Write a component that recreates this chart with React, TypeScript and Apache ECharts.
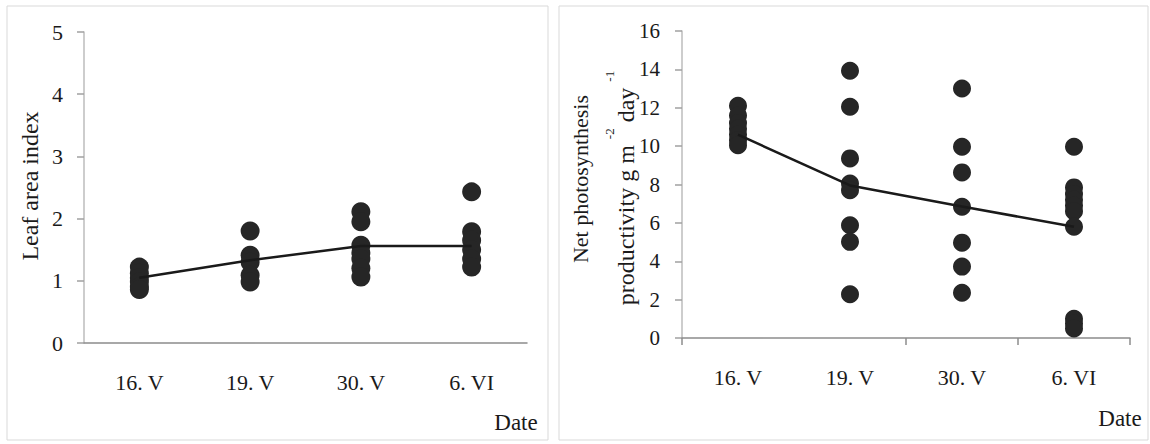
import React, { useEffect, useRef } from 'react';
import * as echarts from 'echarts';

const dates = ['16. V', '19. V', '30. V', '6. VI'];

// Leaf area index — individual plants per date
const lai16 = [1.22, 1.12, 1.05, 0.98, 0.9, 0.86];
const lai19 = [1.8, 1.41, 1.3, 1.09, 0.98];
const lai30 = [2.11, 1.95, 1.57, 1.45, 1.35, 1.2, 1.06];
const lai6 = [2.43, 1.79, 1.65, 1.5, 1.35, 1.22];
const laiMean = [1.05, 1.33, 1.56, 1.56];

// Net photosynthesis productivity, g m-2 day-1
const np16 = [12.1, 11.6, 11.2, 10.9, 10.6, 10.3, 10.05];
const np19 = [13.93, 12.05, 9.36, 8.05, 7.7, 5.88, 5.01, 2.28];
const np30 = [13.0, 9.97, 8.63, 6.84, 4.97, 3.72, 2.36];
const np6 = [9.97, 7.85, 7.5, 7.2, 6.9, 6.6, 5.8, 1.0, 0.75, 0.5];
const npMean = [10.6, 7.95, 6.85, 5.8];

const FONT = '"Liberation Serif", "Times New Roman", serif';
const TXT = '#1a1a1a';

const toPairs = (groups: number[][]) =>
  groups.flatMap((g, i) => g.map((v) => [dates[i], v]));

export default function App() {
  const ref = useRef<HTMLDivElement>(null);

  useEffect(() => {
    document.body.style.margin = '0';
    if (!ref.current) return;
    const chart = echarts.init(ref.current, null, { renderer: 'svg' });

    const xAxisBase = (gridIndex: number, tickShow: boolean) => ({
      type: 'category',
      gridIndex,
      data: dates,
      boundaryGap: true,
      axisLine: { show: true, lineStyle: { color: '#8c8c8c', width: 1.5 } },
      axisTick: {
        show: tickShow,
        interval: 1,
        length: 7,
        lineStyle: { color: '#8c8c8c', width: 1.5 },
      },
      axisLabel: {
        color: TXT,
        fontFamily: FONT,
        fontSize: 22,
        margin: 28,
        interval: 0,
      },
      splitLine: { show: false },
    });

    const yAxisBase = (gridIndex: number, max: number, interval: number, fontSize: number, margin: number) => ({
      type: 'value',
      gridIndex,
      min: 0,
      max,
      interval,
      axisLine: { show: true, lineStyle: { color: '#bdbdbd', width: 1.5 } },
      axisTick: { show: true, length: 7, lineStyle: { color: '#a0a0a0', width: 1.5 } },
      axisLabel: { color: TXT, fontFamily: FONT, fontSize, margin },
      splitLine: { show: false },
    });

    const dot = (size: number) => ({
      type: 'scatter',
      symbol: 'circle',
      symbolSize: size,
      itemStyle: { color: '#262626', opacity: 1 },
      z: 2,
    });

    const meanLine = {
      type: 'line',
      symbol: 'none',
      lineStyle: { color: '#1a1a1a', width: 2.5 },
      z: 3,
    };

    const option: any = {
      animation: false,
      backgroundColor: '#ffffff',
      grid: [
        { left: 84, top: 32, width: 443, height: 311 },
        { left: 682, top: 31, width: 448, height: 307 },
      ],
      xAxis: [xAxisBase(0, false), xAxisBase(1, true)],
      yAxis: [yAxisBase(0, 5, 1, 22, 21), yAxisBase(1, 16, 2, 21, 22)],
      series: [
        { ...dot(19), xAxisIndex: 0, yAxisIndex: 0, data: toPairs([lai16, lai19, lai30, lai6]) },
        { ...meanLine, xAxisIndex: 0, yAxisIndex: 0, data: laiMean },
        { ...dot(18), xAxisIndex: 1, yAxisIndex: 1, data: toPairs([np16, np19, np30, np6]) },
        { ...meanLine, xAxisIndex: 1, yAxisIndex: 1, data: npMean },
      ],
      graphic: [
        {
          type: 'rect',
          shape: { x: 7, y: 6, width: 541, height: 434 },
          style: { fill: 'none', stroke: '#d9d9d9', lineWidth: 1 },
          silent: true,
        },
        {
          type: 'rect',
          shape: { x: 559, y: 6, width: 589, height: 434 },
          style: { fill: 'none', stroke: '#d9d9d9', lineWidth: 1 },
          silent: true,
        },
        {
          type: 'text',
          x: 30,
          y: 186,
          rotation: Math.PI / 2,
          style: {
            text: 'Leaf area index',
            fontFamily: FONT,
            fontSize: 24,
            fill: TXT,
            align: 'center',
            verticalAlign: 'middle',
          },
        },
        {
          type: 'text',
          x: 580,
          y: 179,
          rotation: Math.PI / 2,
          style: {
            text: 'Net photosynthesis',
            fontFamily: FONT,
            fontSize: 22,
            fill: TXT,
            align: 'center',
            verticalAlign: 'middle',
          },
        },
        {
          type: 'text',
          x: 626,
          y: 188,
          rotation: Math.PI / 2,
          style: {
            text: '{m|productivity g m }{s|-2}{m| day }{s|-1}',
            fontFamily: FONT,
            fontSize: 24,
            fill: TXT,
            align: 'center',
            verticalAlign: 'middle',
            rich: {
              m: { fontFamily: FONT, fontSize: 24, lineHeight: 46, fill: TXT },
              s: { fontFamily: FONT, fontSize: 13, lineHeight: 12, verticalAlign: 'top', fill: TXT },
            },
          },
        },
        {
          type: 'text',
          x: 516,
          y: 422,
          style: {
            text: 'Date',
            fontFamily: FONT,
            fontSize: 23,
            fill: TXT,
            align: 'center',
            verticalAlign: 'middle',
          },
        },
        {
          type: 'text',
          x: 1120,
          y: 418,
          style: {
            text: 'Date',
            fontFamily: FONT,
            fontSize: 23,
            fill: TXT,
            align: 'center',
            verticalAlign: 'middle',
          },
        },
      ],
    };

    chart.setOption(option);
    return () => chart.dispose();
  }, []);

  return <div ref={ref} style={{ width: 1150, height: 444 }} />;
}
